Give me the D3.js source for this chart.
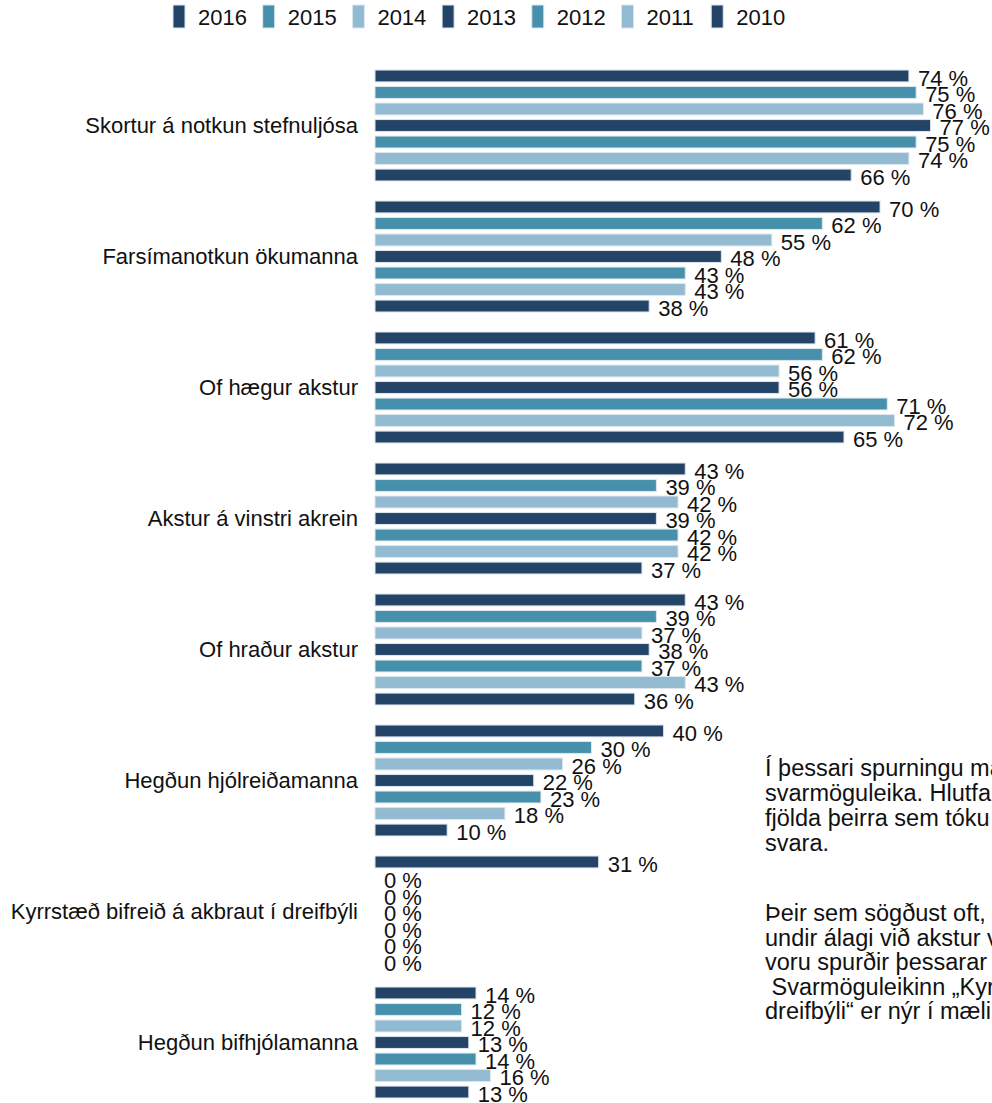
<!DOCTYPE html>
<html>
<head>
<meta charset="utf-8">
<script src="https://cdn.jsdelivr.net/npm/d3@7/dist/d3.min.js"></script>
<style>
  html, body { margin: 0; padding: 0; background: #fff; overflow: hidden; }
  text { font-family: "Liberation Sans", Arial, sans-serif; fill: #111; }
</style>
</head>
<body>
<svg id="chart" width="992" height="1103"></svg>
<script>
const categories = [
  "Skortur á notkun stefnuljósa",
  "Farsímanotkun ökumanna",
  "Of hægur akstur",
  "Akstur á vinstri akrein",
  "Of hraður akstur",
  "Hegðun hjólreiðamanna",
  "Kyrrstæð bifreið á akbraut í dreifbýli",
  "Hegðun bifhjólamanna"
];
const years = ["2016", "2015", "2014", "2013", "2012", "2011", "2010"];
const v2016 = [74, 70, 61, 43, 43, 40, 31, 14];
const v2015 = [75, 62, 62, 39, 39, 30, 0, 12];
const v2014 = [76, 55, 56, 42, 37, 26, 0, 12];
const v2013 = [77, 48, 56, 39, 38, 22, 0, 13];
const v2012 = [75, 43, 71, 42, 37, 23, 0, 14];
const v2011 = [74, 43, 72, 42, 43, 18, 0, 16];
const v2010 = [66, 38, 65, 37, 36, 10, 0, 13];
const seriesValues = [v2016, v2015, v2014, v2013, v2012, v2011, v2010];
const yearColors = ["#234367", "#4690AB", "#92BAD1", "#234367", "#4690AB", "#92BAD1", "#234367"];
const noteParagraph1 = [
  "Í þessari spurningu máttu svarendur velja fleiri en einn",
  "svarmöguleika. Hlutfallstölur eru reiknaðar út frá",
  "fjölda þeirra sem tóku afstöðu og völdu að",
  "svara."
];
const noteParagraph2 = [
  "Þeir sem sögðust oft, stundum eða sjaldan vera",
  "undir álagi við akstur vegna hegðunar annarra",
  "voru spurðir þessarar spurningar.",
  " Svarmöguleikinn „Kyrrstæð bifreið á akbraut í",
  "dreifbýli“ er nýr í mælingunni árið 2016."
];

const svg = d3.select("#chart");

const x = d3.scaleLinear().domain([0, 100]).range([375, 1096.5]);
const y = d3.scaleBand().domain(categories).range([60, 1108])
  .paddingInner(0.153).paddingOuter(0.0765);
const ySub = d3.scaleBand().domain(years).range([0, y.bandwidth()])
  .paddingInner(0.28).paddingOuter(0);
const color = d3.scaleOrdinal().domain(years).range(yearColors);

const rows = [];
categories.forEach((c, i) => {
  years.forEach((yr, j) => {
    rows.push({ cat: c, year: yr, value: seriesValues[j][i] });
  });
});

// Category labels (axis)
const yAxis = d3.axisLeft(y).tickSize(0).tickPadding(0);
const gAxis = svg.append("g").attr("transform", "translate(358,0)").call(yAxis);
gAxis.select(".domain").remove();
gAxis.selectAll("text")
  .attr("font-size", 22)
  .attr("font-family", "Liberation Sans, Arial, sans-serif")
  .attr("fill", "#111")
  .attr("dy", "0.36em");

// Bars
svg.append("g").selectAll("rect").data(rows.filter(d => d.value > 0)).join("rect")
  .attr("x", x(0))
  .attr("y", d => y(d.cat) + ySub(d.year))
  .attr("width", d => x(d.value) - x(0))
  .attr("height", ySub.bandwidth())
  .attr("fill", d => color(d.year))
  .attr("stroke", "#dde6ef")
  .attr("stroke-width", 1);

// Value labels
svg.append("g").selectAll("text").data(rows).join("text")
  .attr("x", d => x(d.value) + 9)
  .attr("y", d => y(d.cat) + ySub(d.year) + ySub.bandwidth() / 2 + 2)
  .attr("dy", "0.36em")
  .attr("font-size", 22)
  .text(d => d.value + " %");

// Legend
const legend = svg.append("g");
years.forEach((yr, i) => {
  const lx = 173 + i * 89.7;
  legend.append("rect").attr("x", lx).attr("y", 5).attr("width", 12).attr("height", 23)
    .attr("fill", color(yr)).attr("stroke", "#dde6ef").attr("stroke-width", 1);
  legend.append("text").attr("x", lx + 25).attr("y", 17).attr("dy", "0.36em")
    .attr("font-size", 22).text(yr);
});

// Note text
const note = svg.append("text").attr("font-size", 23.5);
noteParagraph1.forEach((line, i) => {
  note.append("tspan").attr("x", 765).attr("y", 768 + i * 25).attr("dy", "0.36em")
    .attr("xml:space", "preserve").text(line);
});
noteParagraph2.forEach((line, i) => {
  note.append("tspan").attr("x", 765).attr("y", 913 + i * 24.5).attr("dy", "0.36em")
    .attr("xml:space", "preserve").text(line);
});
</script>
</body>
</html>
